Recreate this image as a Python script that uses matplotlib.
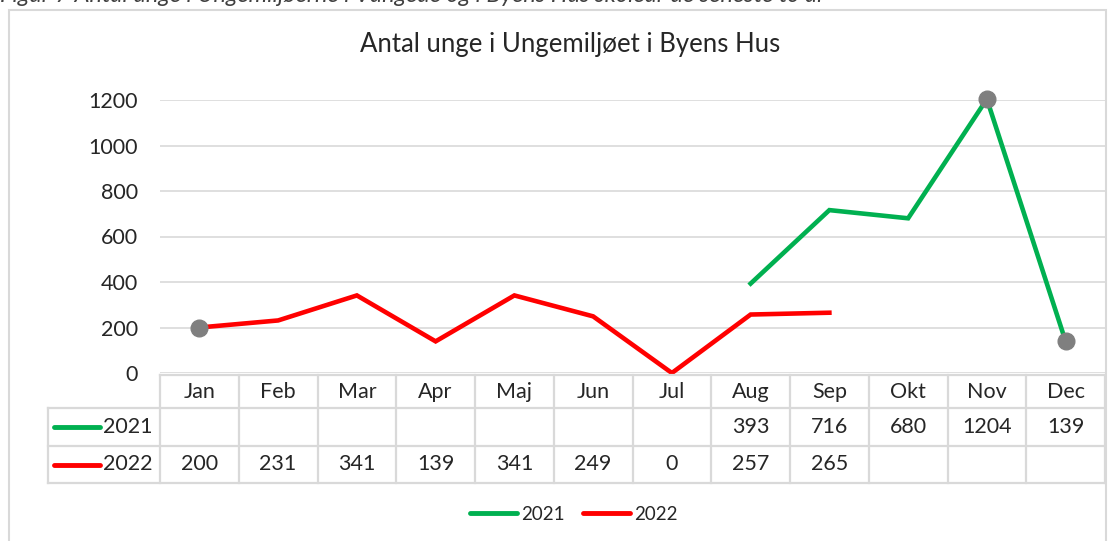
import numpy as np
import matplotlib.pyplot as plt
from matplotlib.lines import Line2D
from matplotlib.patches import Rectangle
import matplotlib.transforms as mtransforms

plt.rcParams['font.family'] = ['Lato', 'DejaVu Sans']

# data
months = ['Jan', 'Feb', 'Mar', 'Apr', 'Maj', 'Jun', 'Jul', 'Aug', 'Sep', 'Okt', 'Nov', 'Dec']
v2021 = [None, None, None, None, None, None, None, 393, 716, 680, 1204, 139]
v2022 = [200, 231, 341, 139, 341, 249, 0, 257, 265, None, None, None]
series_names = ['2021', '2022']
colors = ['#00b050', '#ff0000']
yticks = [0, 200, 400, 600, 800, 1000, 1200]

W, H = 1116, 541
fig = plt.figure(figsize=(W / 100, H / 100), dpi=100)
fig.patch.set_facecolor('white')

def fx(px):
    return px / W

def fy(py):
    return 1 - py / H

FS = 15.5
TXT = '#262626'

# caption, cut off at top edge as in the source
fig.text(fx(0), fy(2), 'Figur 7 Antal unge i Ungemiljøerne i Vangede og i Byens Hus skoleår de seneste to år',
         fontsize=17, style='italic', color='#404040', va='baseline', ha='left')

# outer chart frame
fig.patches.append(Rectangle((fx(9), fy(560)), fx(1106) - fx(9), fy(10) - fy(560),
                             transform=fig.transFigure, fill=False, edgecolor='#d9d9d9', lw=1.5))

ax_left, ax_right, ax_top, ax_bottom = 160, 1105, 100, 373
ax = fig.add_axes([fx(ax_left), fy(ax_bottom), fx(ax_right) - fx(ax_left), fy(ax_top) - fy(ax_bottom)])
x = np.arange(len(months))
ax.set_xlim(-0.5, len(months) - 0.5)
ax.set_ylim(0, 1200)
ax.set_yticks(yticks)
ax.set_yticklabels([str(t) for t in yticks], fontsize=FS, color=TXT)
ax.tick_params(axis='y', length=0, pad=16)
ax.set_xticks([])
for s in ax.spines.values():
    s.set_visible(False)
ax.grid(axis='y', color='#d9d9d9', lw=1.2)
ax.set_axisbelow(True)

y21 = np.array([np.nan if v is None else v for v in v2021], dtype=float)
y22 = np.array([np.nan if v is None else v for v in v2022], dtype=float)
ax.plot(x, y21, color=colors[0], lw=3.3, solid_joinstyle='miter', clip_on=False, zorder=3)
ax.plot(x, y22, color=colors[1], lw=3.3, solid_joinstyle='miter', clip_on=False, zorder=3)
# grey highlight points
ax.plot([x[0]], [y22[0]], 'o', color='#7f7f7f', ms=12, clip_on=False, zorder=4)
ax.plot([x[10], x[11]], [y21[10], y21[11]], 'o', color='#7f7f7f', ms=12, clip_on=False, zorder=4)

fig.text(fx(570), fy(45), 'Antal unge i Ungemiljøet i Byens Hus', fontsize=18.5, color=TXT,
         ha='center', va='center')

# data table below the axes (x in data units, y in pixel rows)
trans = mtransforms.blended_transform_factory(ax.transData, fig.transFigure)
grid_c = '#d9d9d9'
row_tops = [375, 408, 446, 483]
lab_left = -0.5 - (160 - 48) / ((ax_right - ax_left) / 12)
n = len(months)

def hline(x0, x1, py):
    fig.lines.append(Line2D([x0, x1], [fy(py), fy(py)], transform=trans, color=grid_c, lw=1.6))

def vline(xv, py0, py1):
    fig.lines.append(Line2D([xv, xv], [fy(py0), fy(py1)], transform=trans, color=grid_c, lw=1.6))

hline(-0.5, n - 0.5, row_tops[0])
for py in row_tops[1:]:
    hline(lab_left, n - 0.5, py)
for i in range(n + 1):
    vline(i - 0.5, row_tops[0], row_tops[-1])
vline(lab_left, row_tops[1], row_tops[-1])

yh = fy((row_tops[0] + row_tops[1]) / 2)
for i, m in enumerate(months):
    ax.text(i, yh, m, fontsize=FS, color=TXT, ha='center', va='center', transform=trans)

for r, (name, vals, c) in enumerate(zip(series_names, [v2021, v2022], colors)):
    yc = fy((row_tops[r + 1] + row_tops[r + 2]) / 2)
    for i, v in enumerate(vals):
        if v is not None:
            ax.text(i, yc, str(v), fontsize=FS, color=TXT, ha='center', va='center', transform=trans)
    fig.lines.append(Line2D([fx(54), fx(100)], [yc, yc], transform=fig.transFigure,
                            color=c, lw=3.5, solid_capstyle='round'))
    fig.text(fx(103), yc, name, fontsize=FS, color=TXT, ha='left', va='center')

# bottom legend
handles = [Line2D([0], [0], color=c, lw=3.5, solid_capstyle='round') for c in colors]
fig.legend(handles, series_names, loc='center', bbox_to_anchor=(fx(574), fy(514)), ncol=2,
           frameon=False, fontsize=13.5, handlelength=2.5, handletextpad=0.2, columnspacing=1.0,
           labelcolor=TXT)

fig.savefig('out.png', dpi=100, facecolor='white')
